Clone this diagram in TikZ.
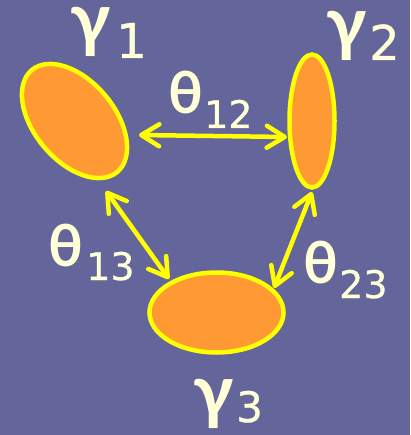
\documentclass[tikz,border=0pt]{standalone}
\usepackage{fontspec}
\setmainfont{Lato}
\newfontfamily\digitfont[FakeBold=0.8]{DejaVu Sans}
\usetikzlibrary{shapes.geometric,arrows.meta}
\definecolor{bg}{HTML}{63659B}
\definecolor{fillorange}{HTML}{FF9933}
\definecolor{ringyellow}{HTML}{FFFF00}
\definecolor{labelcream}{HTML}{FFFFD8}
\tikzset{
  blob/.style={ellipse, draw=ringyellow, fill=fillorange, line width=4.5pt, inner sep=0pt},
  link/.style={draw=ringyellow, line width=4.5pt, {Straight Barb[length=18pt,width=22pt,round]}-{Straight Barb[length=18pt,width=22pt,round]}},
  lab/.style={text=labelcream, inner sep=0pt, anchor=base west},
  greekbig/.style={lab, font=\fontsize{#1}{#1}\selectfont\bfseries, text height=0.6*#1pt, text depth=0.2*#1pt},
  digits/.style={lab, font=\fontsize{#1}{#1}\selectfont\digitfont, text height=0.75*#1pt, text depth=0pt},
}
\begin{document}
\begin{tikzpicture}[x=1pt,y=-1pt]
\fill[bg] (0,0) rectangle (410,435);
\useasboundingbox (0,0) rectangle (410,435);
\node[blob, minimum width=133pt, minimum height=80pt, rotate=-50] (e1) at (74.5,121) {};
\node[blob, minimum width=45pt, minimum height=133pt] (e2) at (312,121) {};
\node[blob, minimum width=134pt, minimum height=80pt] (e3) at (216.5,312.5) {};
\coordinate (a12s) at (139,135);
\coordinate (a12e) at (287,137);
\coordinate (a13s) at (106,191);
\coordinate (a13e) at (169,279);
\coordinate (a23s) at (312,192);
\coordinate (a23e) at (274,288);
\draw[link] (a12s) -- (a12e);
\draw[link] (a13s) -- (a13e);
\draw[link] (a23s) -- (a23e);
% gamma labels
\node[greekbig=72] (g1) at (70,45) {γ};
\node[digits=48] (g1s) at (116,58) {1};
\node[greekbig=72] (g2) at (326,49) {γ};
\node[digits=48] (g2s) at (369,60) {2};
\node[greekbig=72] (g3) at (193,416) {γ};
\node[digits=42] (g3s) at (236,422) {3};
% theta labels
\node[greekbig=58] (t12) at (168,114) {θ};
\node[digits=38] (t12s) at (204,128) {12};
\node[greekbig=58] (t13) at (48,266) {θ};
\node[digits=38] (t13s) at (86,280) {13};
\node[greekbig=58] (t23) at (303,283) {θ};
\node[digits=38] (t23s) at (339,298) {23};
\end{tikzpicture}
\end{document}
